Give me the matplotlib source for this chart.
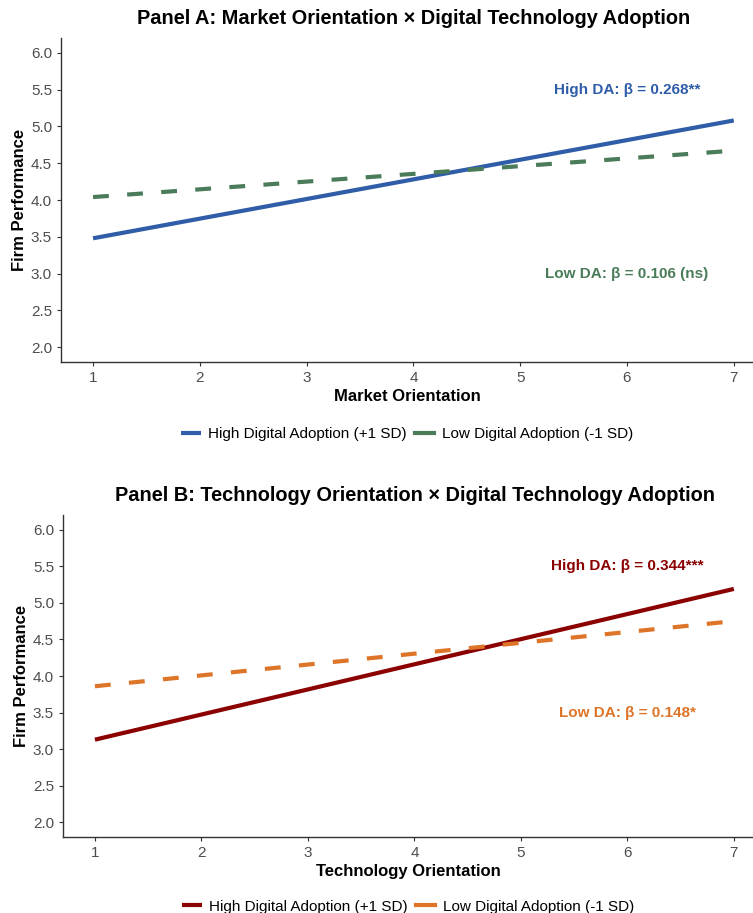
import numpy as np
import matplotlib.pyplot as plt

plt.rcParams['font.family'] = ['Liberation Sans', 'DejaVu Sans']

# predicted firm performance at x = 1 and x = 7
x_vals = [1, 7]
a_high = [3.48, 5.08]
a_low = [4.04, 4.67]
b_high = [3.13, 5.19]
b_low = [3.86, 4.75]

panels = [
    dict(title='Panel A: Market Orientation × Digital Technology Adoption',
         xlabel='Market Orientation', high=a_high, low=a_low,
         c_high='#2F5DA8', c_low='#4A7C59',
         txt_high='High DA: β = 0.268**', txt_low='Low DA: β = 0.106 (ns)',
         y_high=5.5, y_low=3.0, leg_y=-0.158,
         rect=[61/753, 1 - 362/913, 692/753, 324/913]),
    dict(title='Panel B: Technology Orientation × Digital Technology Adoption',
         xlabel='Technology Orientation', high=b_high, low=b_low,
         c_high='#8B0000', c_low='#DE7428',
         txt_high='High DA: β = 0.344***', txt_low='Low DA: β = 0.148*',
         y_high=5.5, y_low=3.5, leg_y=-0.152,
         rect=[63/753, 1 - 837/913, 690/753, 322/913]),
]

fig = plt.figure(figsize=(7.53, 9.13), dpi=100)

for p in panels:
    ax = fig.add_axes(p['rect'])
    ax.plot(x_vals, p['high'], color=p['c_high'], lw=3, solid_capstyle='butt',
            label='High Digital Adoption (+1 SD)')
    ax.plot(x_vals, p['low'], color=p['c_low'], lw=3, dashes=(3.8, 4.4),
            label='Low Digital Adoption (-1 SD)')
    ax.text(6, p['y_high'], p['txt_high'], color=p['c_high'], fontsize=11,
            fontweight='bold', ha='center', va='center')
    ax.text(6, p['y_low'], p['txt_low'], color=p['c_low'], fontsize=11,
            fontweight='bold', ha='center', va='center')
    ax.set_xlim(0.7, 7.18)
    ax.set_ylim(1.8, 6.2)
    ax.set_xticks(range(1, 8))
    ax.set_yticks(np.arange(2.0, 6.01, 0.5))
    ax.set_yticklabels([f'{v:.1f}' for v in np.arange(2.0, 6.01, 0.5)])
    for s in ['top', 'right']:
        ax.spines[s].set_visible(False)
    for s in ['left', 'bottom']:
        ax.spines[s].set_color('#333333')
        ax.spines[s].set_linewidth(1)
    ax.tick_params(colors='#333333', labelcolor='#4D4D4D', labelsize=11, length=3)
    ax.set_title(p['title'], fontsize=14.4, fontweight='bold', pad=10, x=0.51)
    ax.set_xlabel(p['xlabel'], fontsize=12, fontweight='bold', labelpad=3)
    ax.set_ylabel('Firm Performance', fontsize=12, fontweight='bold', labelpad=3)
    leg = ax.legend(loc='upper center', bbox_to_anchor=(0.5, p['leg_y']), ncol=2,
                    frameon=False, fontsize=11, handlelength=1.3,
                    columnspacing=0.5, handletextpad=0.5)
    for h in leg.get_lines():
        h.set_linestyle('-')

fig.savefig('out.png', dpi=100)
